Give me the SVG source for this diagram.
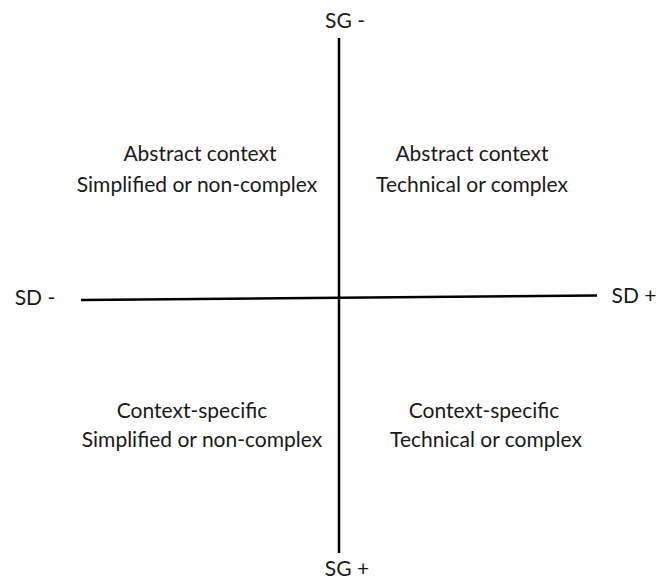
<svg xmlns="http://www.w3.org/2000/svg" width="664" height="579" viewBox="0 0 664 579">
  <style>
    .lbl { font-family: Lato, "Open Sans", "Liberation Sans", sans-serif; font-size: 21px; fill: #1a1a1a; text-anchor: middle; }
    .axis { stroke: #000; stroke-width: 2.5; fill: none; }
  </style>
  <rect width="664" height="579" fill="#fff"/>
  <g id="axes">
    <line class="axis" x1="339" y1="38" x2="339" y2="553"/>
    <line class="axis" x1="81" y1="300" x2="597" y2="295.5"/>
  </g>
  <g id="axis-labels">
    <text class="lbl" x="345" y="28">SG -</text>
    <text class="lbl" x="347" y="576">SG +</text>
    <text class="lbl" x="35" y="305">SD -</text>
    <text class="lbl" x="634" y="303">SD +</text>
  </g>
  <g id="q-top-left">
    <text class="lbl" x="200" y="161">Abstract context</text>
    <text class="lbl" x="197" y="192">Simplified or non-complex</text>
  </g>
  <g id="q-top-right">
    <text class="lbl" x="472" y="161">Abstract context</text>
    <text class="lbl" x="472" y="192">Technical or complex</text>
  </g>
  <g id="q-bottom-left">
    <text class="lbl" x="192" y="418">Context-specific</text>
    <text class="lbl" x="202" y="447">Simplified or non-complex</text>
  </g>
  <g id="q-bottom-right">
    <text class="lbl" x="484" y="418">Context-specific</text>
    <text class="lbl" x="486" y="447">Technical or complex</text>
  </g>
</svg>
